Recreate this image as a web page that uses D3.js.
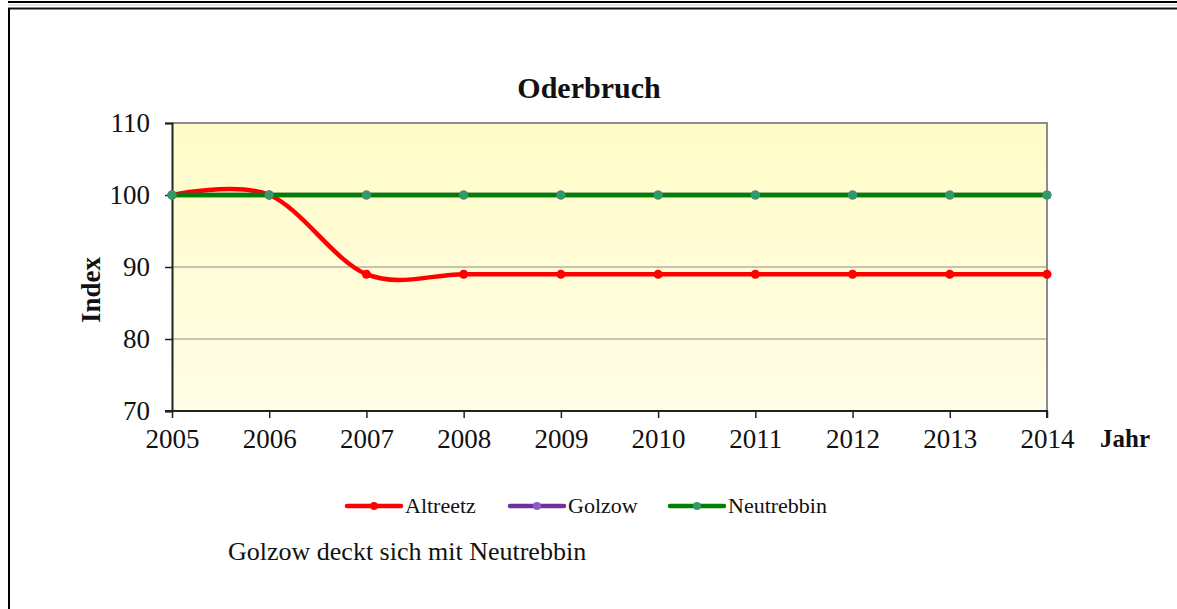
<!DOCTYPE html>
<html>
<head>
<meta charset="utf-8">
<script src="https://cdn.jsdelivr.net/npm/d3@7"></script>
<style>
  body { margin: 0; background: #fff; }
  svg { display: block; font-family: "Liberation Serif", "Times New Roman", serif; }
</style>
</head>
<body>
<script>
const years = [2005, 2006, 2007, 2008, 2009, 2010, 2011, 2012, 2013, 2014];
const altreetz = [100, 100, 89, 89, 89, 89, 89, 89, 89, 89];
const golzow = [100, 100, 100, 100, 100, 100, 100, 100, 100, 100];
const neutrebbin = [100, 100, 100, 100, 100, 100, 100, 100, 100, 100];
const yTicks = [70, 80, 90, 100, 110];

const series = [
  { name: 'Altreetz', values: altreetz, color: '#ff0000', marker: '#ff0000' },
  { name: 'Golzow', values: golzow, color: '#7030a0', marker: '#8e5cc0' },
  { name: 'Neutrebbin', values: neutrebbin, color: '#008000', marker: '#339966' }
];

const W = 1177, H = 609;
const svg = d3.select('body').append('svg').attr('width', W).attr('height', H);

// outer frame
svg.append('line').attr('x1', 8).attr('x2', W).attr('y1', 2).attr('y2', 2)
  .attr('stroke', '#000').attr('stroke-width', 2);
svg.append('line').attr('x1', 8).attr('x2', W).attr('y1', 5).attr('y2', 5)
  .attr('stroke', '#ccc').attr('stroke-width', 1);
svg.append('line').attr('x1', 8).attr('x2', W).attr('y1', 8.5).attr('y2', 8.5)
  .attr('stroke', '#111').attr('stroke-width', 2);
svg.append('line').attr('x1', 9).attr('x2', 9).attr('y1', 8).attr('y2', H)
  .attr('stroke', '#000').attr('stroke-width', 2);

const pLeft = 172, pRight = 1047, pTop = 123, pBottom = 411;
const x = d3.scaleLinear().domain([2005, 2014]).range([pLeft, pRight]);
const y = d3.scaleLinear().domain([70, 110]).range([pBottom, pTop]);

const defs = svg.append('defs');
const grad = defs.append('linearGradient').attr('id', 'bg')
  .attr('x1', 0).attr('y1', 0).attr('x2', 0).attr('y2', 1);
grad.append('stop').attr('offset', '0%').attr('stop-color', '#fffcc8');
grad.append('stop').attr('offset', '100%').attr('stop-color', '#fffde6');

svg.append('rect').attr('x', pLeft).attr('y', pTop)
  .attr('width', pRight - pLeft).attr('height', pBottom - pTop)
  .attr('fill', 'url(#bg)');

// gridlines
svg.append('g').selectAll('line').data(yTicks.filter(d => d > 70 && d < 110)).join('line')
  .attr('x1', pLeft).attr('x2', pRight)
  .attr('y1', d => y(d)).attr('y2', d => y(d))
  .attr('stroke', '#8c8c8c').attr('stroke-width', 1);

// plot border top/right
svg.append('path')
  .attr('d', `M${pLeft},${pTop}H${pRight}V${pBottom}`)
  .attr('fill', 'none').attr('stroke', '#8c8c8c').attr('stroke-width', 2);

// axes
const yAxis = svg.append('g').attr('transform', `translate(${pLeft},0)`)
  .call(d3.axisLeft(y).tickValues(yTicks).tickSize(7).tickPadding(15));
const xAxis = svg.append('g').attr('transform', `translate(0,${pBottom})`)
  .call(d3.axisBottom(x).tickValues(years).tickFormat(d3.format('d')).tickSize(7).tickPadding(11));
[yAxis, xAxis].forEach(a => {
  a.select('.domain').attr('stroke', '#222').attr('stroke-width', 2);
  a.selectAll('.tick line').attr('stroke', '#222').attr('stroke-width', 1.5);
  a.selectAll('text').attr('font-family', 'Liberation Serif').attr('font-size', 27).attr('fill', '#111');
});
xAxis.select('.domain').attr('d', `M${pLeft - 7},0H${pRight}V7`);

// lines
const line = d3.line().x((d, i) => x(years[i])).y(d => y(d)).curve(d3.curveCatmullRom.alpha(0));
series.forEach(s => {
  svg.append('path').datum(s.values)
    .attr('d', line).attr('fill', 'none')
    .attr('stroke', s.color).attr('stroke-width', 4.5).attr('stroke-linejoin', 'round');
});
series.forEach(s => {
  svg.append('g').selectAll('circle').data(s.values).join('circle')
    .attr('cx', (d, i) => x(years[i])).attr('cy', d => y(d)).attr('r', 4.5)
    .attr('fill', s.marker);
});

// titles
svg.append('text').attr('x', 589).attr('y', 98).attr('text-anchor', 'middle')
  .attr('font-size', 30).attr('font-weight', 'bold').attr('fill', '#111').text('Oderbruch');
svg.append('text').attr('transform', 'translate(100,290) rotate(-90)').attr('text-anchor', 'middle')
  .attr('font-size', 27).attr('font-weight', 'bold').attr('fill', '#111').text('Index');
svg.append('text').attr('x', 1100).attr('y', 447)
  .attr('font-size', 25).attr('font-weight', 'bold').attr('fill', '#111').text('Jahr');

// legend
const legendX = [347, 510, 670];
const lg = svg.append('g').selectAll('g').data(series).join('g')
  .attr('transform', (d, i) => `translate(${legendX[i]},506)`);
lg.append('line').attr('x1', 0).attr('x2', 54).attr('y1', 0).attr('y2', 0)
  .attr('stroke', d => d.color).attr('stroke-width', 4.5).attr('stroke-linecap', 'round');
lg.append('circle').attr('cx', 27).attr('cy', 0).attr('r', 4).attr('fill', d => d.marker);
lg.append('text').attr('x', 58).attr('y', 7).attr('font-size', 22).attr('fill', '#111').text(d => d.name);

svg.append('text').attr('x', 228).attr('y', 560)
  .attr('font-size', 26).attr('fill', '#111').text('Golzow deckt sich mit Neutrebbin');
</script>
</body>
</html>
